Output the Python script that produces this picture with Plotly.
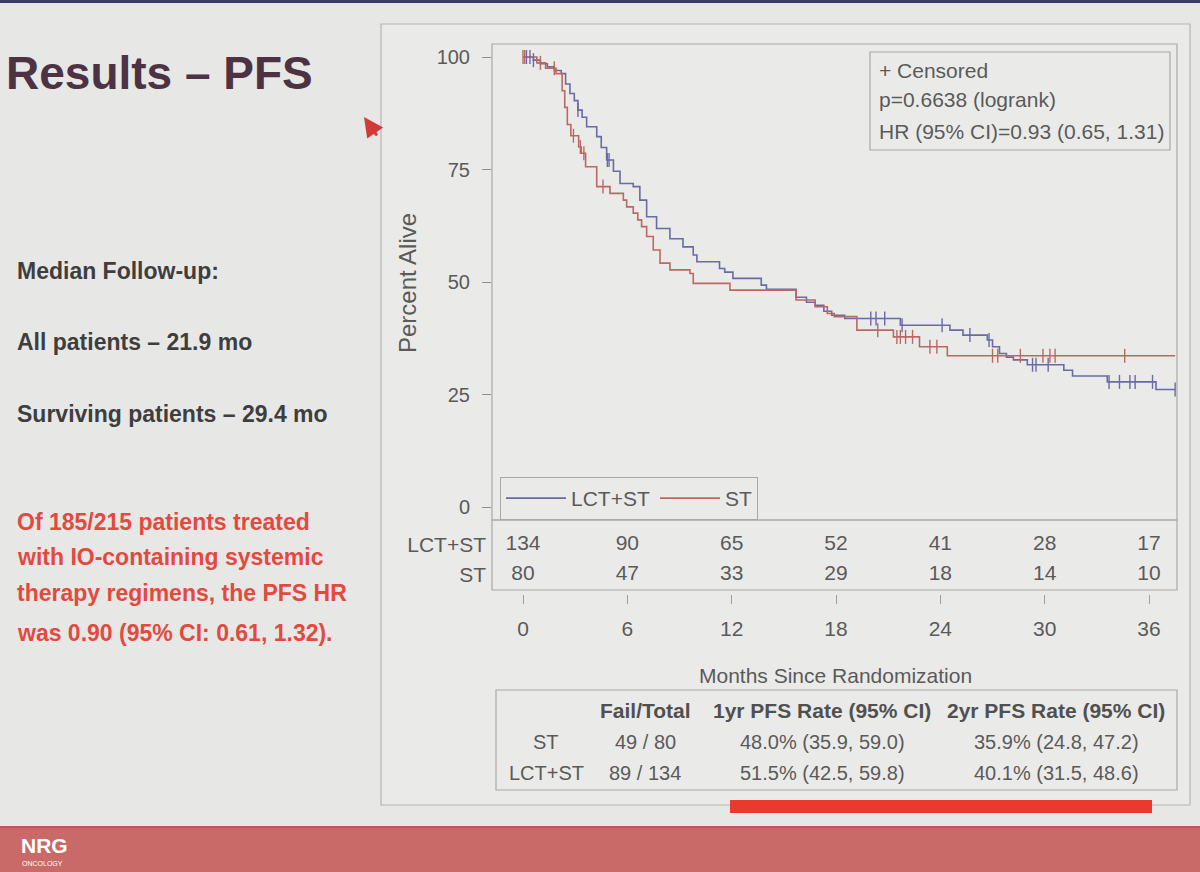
import numpy as np
import plotly.graph_objects as go

W, H = 1200, 872
def fx(px): return px / W
def fy(py): return 1 - py / H

# ---------------- data ----------------
lct_t = [0, 0.6, 1.0, 1.4, 1.8, 2.2, 2.45, 2.7, 2.95, 3.16, 3.4, 3.66, 4.24, 4.5, 4.81, 5.2, 5.58,
         6.34, 6.72, 7.11, 7.68, 8.45, 9.2, 9.79, 10.0, 11.3, 11.6, 12.07, 13.7, 14.0, 15.7, 16.3,
         16.8, 17.3, 17.75, 18.5, 21.7, 24.55, 25.3, 26.7, 27.0, 27.4, 27.8, 28.2, 29.0, 31.1,
         31.6, 33.6, 36.4, 37.5]
lct_s = [100, 99.3, 98.5, 97.8, 97.0, 96.3, 94.0, 91.9, 90.3, 88.2, 86.6, 84.5, 82.3, 79.9, 77.1,
         74.6, 71.9, 71.2, 68.2, 64.5, 61.9, 59.6, 57.8, 56.0, 54.5, 53.0, 52.2, 50.8, 49.3, 48.4,
         46.6, 45.5, 44.8, 43.5, 42.6, 41.9, 40.4, 39.3, 38.2, 37.1, 35.6, 34.1, 33.3, 32.7, 31.6,
         30.4, 29.1, 27.8, 26.1, 26.1]
st_t = [0, 0.8, 1.3, 1.9, 2.25, 2.4, 2.55, 2.75, 3.2, 3.35, 3.6, 4.24, 5.0, 5.77, 5.96, 6.34, 6.6,
        6.82, 7.11, 7.49, 7.88, 8.45, 9.6, 9.79, 11.9, 15.7, 16.8, 17.5, 17.9, 19.2, 21.3, 22.8,
        24.4, 37.5]
st_s = [100, 98.7, 97.5, 96.3, 92.5, 88.8, 85.0, 82.5, 80.0, 78.6, 75.6, 71.2, 69.7, 68.2, 66.7,
        65.3, 63.8, 62.3, 60.1, 57.1, 54.2, 52.7, 51.9, 49.7, 48.2, 46.0, 44.5, 43.0, 42.3, 39.3,
        37.8, 35.6, 33.6, 33.6]
lct_cens = [0.2, 0.4, 0.6, 3.16, 4.85, 4.95, 20.0, 20.3, 20.8, 21.8, 24.1, 25.7, 26.8, 29.3, 29.5,
            30.2, 33.7, 34.3, 34.9, 35.2, 36.2, 37.5]
st_cens = [0.0, 0.1, 1.0, 1.8, 2.9, 3.3, 3.5, 4.6, 20.4, 21.5, 21.7, 22.0, 22.4, 23.4, 23.8, 27.0,
           27.3, 28.6, 29.9, 30.3, 30.6, 34.6]

risk_times = [0, 6, 12, 18, 24, 30, 36]
risk_lct = [134, 90, 65, 52, 41, 28, 17]
risk_st = [80, 47, 33, 29, 18, 14, 10]
y_ticks = [0, 25, 50, 75, 100]

info_lines = ["+ Censored", "p=0.6638 (logrank)", "HR (95% CI)=0.93 (0.65, 1.31)"]
stats_header = ["", "Fail/Total", "1yr PFS Rate (95% CI)", "2yr PFS Rate (95% CI)"]
stats_rows = [["ST", "49 / 80", "48.0% (35.9, 59.0)", "35.9% (24.8, 47.2)"],
              ["LCT+ST", "89 / 134", "51.5% (42.5, 59.8)", "40.1% (31.5, 48.6)"]]

left_text = ["Median Follow-up:", "All patients \u2013 21.9 mo", "Surviving patients \u2013 29.4 mo"]
red_text = ["Of 185/215 patients treated", "with IO-containing systemic",
            "therapy regimens, the PFS HR", "was 0.90 (95% CI: 0.61, 1.32)."]

# ---------------- styles ----------------
SANS = "Liberation Sans, Arial, sans-serif"
BG = "#e7e8e6"
TXT = "#5a5a5a"
BLUE = "#6a6aa6"
RED = "#bb6862"
GRID = "#a8a8a8"


def surv_at(ts, ss, c):
    ts = np.asarray(ts)
    ss = np.asarray(ss)
    i = np.searchsorted(ts, c, side="right") - 1
    return ss[i]


fig = go.Figure()
fig.add_trace(go.Scatter(x=lct_t, y=lct_s, mode="lines", line=dict(color=BLUE, width=1.6, shape="hv"),
                         name="LCT+ST"))
fig.add_trace(go.Scatter(x=st_t, y=st_s, mode="lines", line=dict(color=RED, width=1.6, shape="hv"),
                         name="ST"))
fig.add_trace(go.Scatter(x=lct_cens, y=[surv_at(lct_t, lct_s, c) for c in lct_cens], mode="markers",
                         marker=dict(symbol="line-ns", size=10, line=dict(color=BLUE, width=1.4)),
                         showlegend=False, hoverinfo="skip"))
fig.add_trace(go.Scatter(x=st_cens, y=[surv_at(st_t, st_s, c) for c in st_cens], mode="markers",
                         marker=dict(symbol="line-ns", size=10, line=dict(color=RED, width=1.4)),
                         showlegend=False, hoverinfo="skip"))

# risk table
fig.add_trace(go.Scatter(x=risk_times + risk_times, y=[1] * len(risk_times) + [0] * len(risk_times),
                         mode="text", text=[str(v) for v in risk_lct + risk_st],
                         textfont=dict(family=SANS, size=21, color=TXT),
                         xaxis="x2", yaxis="y2", showlegend=False, hoverinfo="skip"))

xr = [(492 - 523) / 17.39, (1177 - 523) / 17.39]
yr = [(507 - 520) / 4.5, (507 - 44) / 4.5]

fig.update_layout(
    width=W, height=H, margin=dict(l=0, r=0, t=0, b=0),
    paper_bgcolor=BG, plot_bgcolor=BG,
    font=dict(family=SANS, color=TXT, size=21),
    xaxis=dict(domain=[fx(492), fx(1177)], range=xr, showticklabels=False, ticks="",
               showgrid=False, zeroline=False, showline=False, anchor="y"),
    yaxis=dict(domain=[fy(520), fy(44)], range=yr, tickvals=y_ticks, ticks="outside", ticklen=9,
               tickcolor="#909090", tickfont=dict(size=20, color=TXT), ticklabelstandoff=8,
               showgrid=False, zeroline=False, showline=False, anchor="x"),
    xaxis2=dict(domain=[fx(492), fx(1177)], range=xr, tickvals=risk_times, ticks="outside",
                ticklen=9, tickcolor="#a0a0a0", tickfont=dict(size=21, color=TXT),
                ticklabelstandoff=7, showgrid=False, zeroline=False, showline=False,
                anchor="free", position=fy(594)),
    yaxis2=dict(domain=[fy(590), fy(520)], range=[-0.5, -0.5 + 70 / 30], tickvals=[1, 0],
                ticktext=["LCT+ST", "ST"], ticks="", tickfont=dict(size=21, color=TXT),
                ticklabelstandoff=5, showgrid=False, zeroline=False, showline=False, anchor="x2"),
    legend=dict(orientation="h", x=fx(500), y=fy(477), xanchor="left", yanchor="top",
                bordercolor=GRID, borderwidth=1, bgcolor="rgba(0,0,0,0)",
                font=dict(size=21, color=TXT), itemwidth=60, tracegroupgap=0),
    showlegend=True,
)

shapes = []
# top dark strip
shapes.append(dict(type="rect", xref="paper", yref="paper", x0=0, x1=1, y0=fy(3), y1=1,
                   fillcolor="#3a3a6c", line=dict(width=0), layer="above"))
# footer band
shapes.append(dict(type="rect", xref="paper", yref="paper", x0=0, x1=1, y0=0, y1=fy(826),
                   fillcolor="#c96a68", line=dict(width=0), layer="below"))
shapes.append(dict(type="rect", xref="paper", yref="paper", x0=0, x1=1, y0=fy(828), y1=fy(826),
                   fillcolor="#b85a5a", line=dict(width=0), layer="below"))
# outer chart frame
shapes.append(dict(type="rect", xref="paper", yref="paper", x0=fx(381), x1=fx(1190), y0=fy(805),
                   y1=fy(24), line=dict(color="#b4b4b4", width=1.2), fillcolor="#eaebe9", layer="below"))
# plot frame
shapes.append(dict(type="rect", xref="paper", yref="paper", x0=fx(492), x1=fx(1177), y0=fy(520),
                   y1=fy(44), line=dict(color=GRID, width=1.2), layer="above"))
# risk table frame
shapes.append(dict(type="rect", xref="paper", yref="paper", x0=fx(492), x1=fx(1177), y0=fy(590),
                   y1=fy(520), line=dict(color=GRID, width=1.2), layer="above"))
# info box frame
shapes.append(dict(type="rect", xref="paper", yref="paper", x0=fx(870), x1=fx(1170), y0=fy(150),
                   y1=fy(52), line=dict(color=GRID, width=1.2), layer="above"))
# stats table frame
shapes.append(dict(type="rect", xref="paper", yref="paper", x0=fx(496), x1=fx(1177), y0=fy(790),
                   y1=fy(690), line=dict(color=GRID, width=1.2), layer="above"))
# red underline
shapes.append(dict(type="rect", xref="paper", yref="paper", x0=fx(730), x1=fx(1152), y0=fy(813),
                   y1=fy(800), fillcolor="#ea3a2e", line=dict(width=0), layer="above"))
fig.update_layout(shapes=shapes)


def A(text, px, py, size, color=TXT, xanchor="center", yanchor="middle", **kw):
    d = dict(text=text, x=fx(px), y=fy(py), xref="paper", yref="paper", xanchor=xanchor,
             yanchor=yanchor, showarrow=False, font=dict(family=SANS, size=size, color=color))
    d.update(kw)
    return d


ann = []
ann.append(A("<b>Results \u2013 PFS</b>", 4, 73, 46, "#4c3242", xanchor="left"))
for txt, py in zip(left_text, [271, 342, 414]):
    ann.append(A("<b>" + txt + "</b>", 15, py, 23, "#3e3e3e", xanchor="left"))
for txt, py in zip(red_text, [522, 557, 593, 633]):
    ann.append(A("<b>" + txt + "</b>", 15, py, 23, "#e24a40", xanchor="left"))
# cursor arrow
ann.append(dict(text="", x=fx(364), y=fy(117), xref="paper", yref="paper", showarrow=True,
                ax=14, ay=20, arrowhead=2, arrowsize=1.3, arrowwidth=3, arrowcolor="#d23a3a"))
# y axis title
ann.append(A("Percent Alive", 407, 283, 24, textangle=-90))
# x axis title
ann.append(A("Months Since Randomization", 835, 675, 21))
# stats info box text
for txt, py in zip(info_lines, [70, 100, 132]):
    ann.append(A(txt, 877, py, 21, xanchor="left"))
# stats table
col_x = [546, 645, 822, 1056]
for j, h in enumerate(stats_header):
    if h:
        ann.append(A("<b>" + h + "</b>", col_x[j], 710, 21, "#505050"))
for i, row in enumerate(stats_rows):
    for j, cell in enumerate(row):
        ann.append(A(cell, col_x[j], 742 + 31 * i, 20))
# footer logo
ann.append(A("<b>NRG</b>", 19, 845, 21, "white", xanchor="left"))
ann.append(A("ONCOLOGY", 20, 863, 7, "white", xanchor="left"))
fig.update_layout(annotations=ann)

fig.write_html("out.html", config={"displayModeBar": False},
               post_script="document.body.style.margin='0';document.body.style.background='#e7e8e6';")
